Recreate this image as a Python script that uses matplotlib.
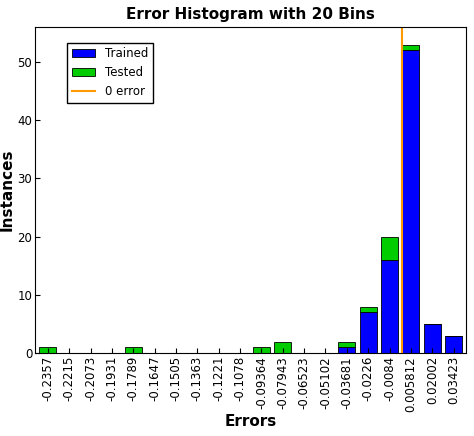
import matplotlib.pyplot as plt
import numpy as np

bin_labels = ["-0.2357", "-0.2215", "-0.2073", "-0.1931", "-0.1789", "-0.1647",
              "-0.1505", "-0.1363", "-0.1221", "-0.1078", "-0.09364", "-0.07943",
              "-0.06523", "-0.05102", "-0.03681", "-0.0226", "-0.0084", "0.005812",
              "0.02002", "0.03423"]
trained = [0, 0, 0, 0, 0, 0, 0, 0, 0, 0, 0, 0, 0, 0, 1, 7, 16, 52, 5, 3]
tested = [1, 0, 0, 0, 1, 0, 0, 0, 0, 0, 1, 2, 0, 0, 1, 1, 4, 1, 0, 0]
bin_start = -0.2357
bin_step = 0.0142

fig = plt.figure(figsize=(4.74, 4.36), dpi=100)
ax = fig.add_axes([0.074, 0.19, 0.91, 0.748])
x = np.arange(len(bin_labels))
b1 = ax.bar(x, trained, width=0.8, color="#0000ff", edgecolor="black", linewidth=0.6)
b2 = ax.bar(x, tested, width=0.8, bottom=trained, color="#00cc00", edgecolor="black", linewidth=0.6)
zero_pos = (0 - bin_start) / bin_step
ln = ax.axvline(zero_pos, color="#ff9900", linewidth=1.5)

ax.set_xlim(-0.6, len(bin_labels) - 0.4)
ax.set_ylim(0, 56)
ax.set_xticks(x)
ax.set_xticklabels(bin_labels, rotation=90, fontsize=8.5)
ax.set_yticks([0, 10, 20, 30, 40, 50])
ax.tick_params(labelsize=8.5, direction="in", pad=2)
ax.set_xlabel("Errors", fontsize=11, fontweight="bold", labelpad=2)
ax.set_ylabel("Instances", fontsize=11, fontweight="bold", labelpad=2)
ax.set_title("Error Histogram with 20 Bins", fontsize=11, fontweight="bold")
ax.legend([b1, b2, ln], ["Trained", "Tested", "0 error"], loc="upper left",
          bbox_to_anchor=(0.06, 0.97), fontsize=8.5, fancybox=False,
          edgecolor="black", framealpha=1)
fig.savefig("out.png", dpi=100)
